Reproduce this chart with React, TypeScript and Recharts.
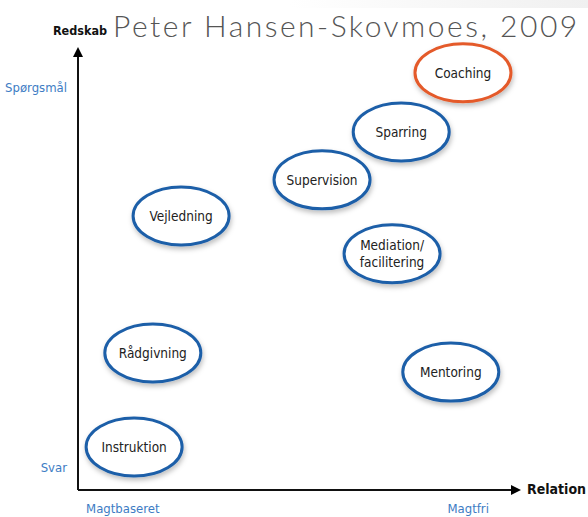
import { ScatterChart, Scatter, XAxis, YAxis, Label } from "recharts";

// approaches placed on the relation (x) / tool (y) plane, 0-100
const names = [
  "Coaching",
  "Sparring",
  "Supervision",
  "Vejledning",
  "Mediation/\nfacilitering",
  "Rådgivning",
  "Mentoring",
  "Instruktion",
];
const relation = [88.5, 74.3, 56.1, 23.7, 72.2, 17.2, 85.7, 12.9];
const redskab = [95.9, 82.3, 71.3, 63.0, 54.3, 31.5, 27.1, 9.9];

const xTicks = [10.3, 89.7];
const xTickLabels = ["Magtbaseret", "Magtfri"];
const yTicks = [5.1, 92.6];
const yTickLabels = ["Svar", "Spørgsmål"];

const data = names.map((name, i) => ({ name, x: relation[i], y: redskab[i] }));

const BLUE = "#1d5ea8";
const ORANGE = "#e45a2a";
const LABEL_FONT = "'DejaVu Sans Condensed', 'DejaVu Sans', sans-serif";

const Bubble = (props: any) => {
  const { cx, cy, payload } = props;
  const lines: string[] = payload.name.split("\n");
  const stroke = payload.name === "Coaching" ? ORANGE : BLUE;
  return (
    <g>
      <ellipse
        cx={cx}
        cy={cy}
        rx={48}
        ry={29}
        fill="#fff"
        stroke={stroke}
        strokeWidth={3}
        filter="url(#shadow)"
      />
      {lines.map((l, i) => (
        <text
          key={i}
          x={cx}
          y={cy + (i - (lines.length - 1) / 2) * 17}
          textAnchor="middle"
          dominantBaseline="central"
          fontFamily={LABEL_FONT}
          fontSize={13.5}
          fill="#222"
        >
          {l}
        </text>
      ))}
    </g>
  );
};

const XTick = (props: any) => {
  const { x, y, index } = props;
  return (
    <text
      x={x}
      y={y + 10}
      textAnchor="middle"
      dominantBaseline="central"
      fontFamily={LABEL_FONT}
      fontSize={13}
      fill="#3d7cc4"
    >
      {xTickLabels[index]}
    </text>
  );
};

const YTick = (props: any) => {
  const { x, y, index } = props;
  return (
    <text
      x={x - 3}
      y={y}
      textAnchor="end"
      dominantBaseline="central"
      fontFamily={LABEL_FONT}
      fontSize={13}
      fill="#3d7cc4"
    >
      {yTickLabels[index]}
    </text>
  );
};

export default function App() {
  return (
    <div style={{ position: "absolute", left: 0, top: 0, width: 588, height: 517, background: "#fff" }}>
      <div
        style={{
          position: "absolute",
          left: 290,
          top: 0,
          width: 298,
          height: 8,
          background: "linear-gradient(to right, #ffffff, #f0f0f0)",
        }}
      />
      <ScatterChart width={588} height={517} margin={{ top: 55, right: 75, bottom: 0, left: 0 }}>
        <defs>
          <marker id="arrow" viewBox="0 0 10 10" refX="2" refY="5" markerWidth="5" markerHeight="5" orient="auto-start-reverse">
            <path d="M0,0 L10,5 L0,10 z" fill="#000" />
          </marker>
          <filter id="shadow" x="-30%" y="-30%" width="160%" height="170%">
            <feDropShadow dx="1" dy="3" stdDeviation="2.5" floodColor="#000" floodOpacity="0.25" />
          </filter>
        </defs>
        <XAxis
          type="number"
          dataKey="x"
          domain={[0, 100]}
          ticks={xTicks}
          tick={<XTick />}
          tickLine={false}
          height={27}
          axisLine={{ stroke: "#111", strokeWidth: 2, markerEnd: "url(#arrow)" } as any}
        >
          <Label
            content={(p: any) => (
              <text
                x={p.viewBox.x + p.viewBox.width + 14}
                y={p.viewBox.y - 1}
                dominantBaseline="central"
                fontFamily={LABEL_FONT}
                fontWeight="bold"
                fontSize={14}
                fill="#111"
              >
                Relation
              </text>
            )}
          />
        </XAxis>
        <YAxis
          type="number"
          dataKey="y"
          domain={[0, 100]}
          ticks={yTicks}
          tick={<YTick />}
          tickLine={false}
          width={78}
          axisLine={{ stroke: "#111", strokeWidth: 2, markerStart: "url(#arrow)" } as any}
        >
          <Label
            content={(p: any) => (
              <text
                x={p.viewBox.x + p.viewBox.width + 2}
                y={30}
                textAnchor="middle"
                dominantBaseline="central"
                fontFamily={LABEL_FONT}
                fontWeight="bold"
                fontSize={12.5}
                fill="#111"
              >
                Redskab
              </text>
            )}
          />
        </YAxis>
        <Scatter data={data} shape={<Bubble />} isAnimationActive={false} />
      </ScatterChart>
      <div
        style={{
          position: "absolute",
          left: 113,
          top: 7,
          fontFamily: "Lato, 'Noto Sans', sans-serif",
          fontWeight: 300,
          fontSize: 30,
          letterSpacing: 2.5,
          color: "#555",
          whiteSpace: "nowrap",
          lineHeight: "36px",
        }}
      >
        Peter Hansen-Skovmoes, 2009
      </div>
    </div>
  );
}
